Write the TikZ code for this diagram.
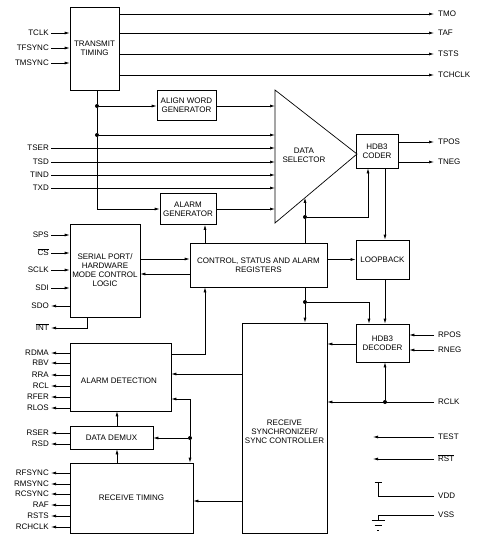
\documentclass[tikz,border=0pt]{standalone}
\usepackage{fontspec}
\setmainfont{Liberation Sans}
\usetikzlibrary{arrows.meta}
\newcommand{\ovl}[1]{$\overline{\hbox{#1}}$}
\begin{document}
\begin{tikzpicture}[x=1pt,y=-1pt,
  every node/.style={font=\fontsize{8}{9}\selectfont},
  box/.style={draw, rectangle, inner sep=0pt, align=center, line width=0.7pt},
  lbl/.style={inner xsep=2pt, inner ysep=0pt, anchor=east, text height=5.7pt, text depth=0pt},
  rlbl/.style={inner xsep=4pt, inner ysep=0pt, anchor=west, text height=5.7pt, text depth=0pt},
  wire/.style={line width=0.7pt},
  arr/.style={wire, -{Latex[length=5pt,width=3pt]}},
  dot/.style={circle, fill, inner sep=0pt, minimum size=4pt},
]
\useasboundingbox (0,0) rectangle (486,544);

% ---------------- boxes
\node[box, minimum width=49pt, minimum height=83pt] (tt) at (94.5,48.5) {TRANSMIT\\TIMING};
\node[box, minimum width=59pt, minimum height=30pt] (awg) at (186.5,105.5) {ALIGN WORD\\GENERATOR};
\node[box, minimum width=56pt, minimum height=31pt] (ag) at (188,209) {ALARM\\GENERATOR};
\node[box, minimum width=42pt, minimum height=34pt] (coder) at (377,151) {HDB3\\CODER};
\node[box, minimum width=70pt, minimum height=93pt] (sp) at (105,270.5) {SERIAL PORT/\\HARDWARE\\MODE CONTROL\\LOGIC};
\node[box, minimum width=137pt, minimum height=44pt] (ctrl) at (258.5,265) {CONTROL, STATUS AND ALARM\\REGISTERS};
\node[box, minimum width=53pt, minimum height=39pt] (loop) at (382.5,259.5) {LOOPBACK};
\node[box, minimum width=53pt, minimum height=38pt] (dec) at (382.5,343) {HDB3\\DECODER};
\node[box, minimum width=85pt, minimum height=210pt] (rs) at (284.5,428) {};
\node[align=center] at (284.5,432) {RECEIVE\\SYNCHRONIZER/\\SYNC CONTROLLER};
\node[box, minimum width=101pt, minimum height=68pt] (ad) at (120.5,377) {};
\node at (119,381) {ALARM DETECTION};
\node[box, minimum width=83pt, minimum height=23pt] (dd) at (111.5,437.5) {DATA DEMUX};
\node[box, minimum width=123pt, minimum height=70pt] (rt) at (131.5,498) {RECEIVE TIMING};

% data selector triangle
\coordinate (dsA) at (275,90);
\coordinate (dsT) at (357,154);
\coordinate (dsB) at (275,223);
\coordinate (dsE) at (305,197.8);
\draw[wire] (dsA) -- (dsT) -- (dsB) -- cycle;
\node[align=center] (ds) at (304,155) {DATA\\SELECTOR};

% x positions
\coordinate (xc) at (368,0);
\coordinate (xl) at (385,0);
\coordinate (xd) at (369,0);
\coordinate (xag) at (205,0);
\coordinate (xint) at (87,0);
\coordinate (xv) at (117,0);

% ---------------- transmit side
\node[lbl] (tclk) at (51,33) {TCLK};
\node[lbl] (tfsync) at (51,48) {TFSYNC};
\node[lbl] (tmsync) at (51,63) {TMSYNC};
\foreach \n in {tclk,tfsync,tmsync} \draw[arr] (\n) -- (\n -| tt.west);

\node[rlbl] (tmo) at (434,14) {TMO};
\node[rlbl] (taf) at (434,33) {TAF};
\node[rlbl] (tsts) at (434,54) {TSTS};
\node[rlbl] (tchclk) at (434,75) {TCHCLK};
\foreach \n in {tmo,taf,tsts,tchclk} \draw[arr] (tt.east |- \n) -- (\n);

\node[dot] (j1) at (97,106) {};
\node[dot] (j3) at (97,135) {};
\coordinate (j2) at (97,209);
\draw[wire] (tt.south -| j1) -- (j1);
\draw[wire] (j1) -- (j3);
\draw[arr] (j3) -- (j2) -- (j2 -| ag.west);
\draw[arr] (j1) -- (j1 -| awg.west);
\draw[arr] (awg.east |- j1) -- (j1 -| dsA);
\draw[arr] (j3) -- (j3 -| dsA);
\draw[arr] (ag.east |- j2) -- (j2 -| dsA);

\node[lbl] (tser) at (51,148) {TSER};
\node[lbl] (tsd) at (51,162) {TSD};
\node[lbl] (tind) at (51,175) {TIND};
\node[lbl] (txd) at (51,188) {TXD};
\foreach \n in {tser,tsd,tind,txd} \draw[arr] (\n) -- (\n -| dsA);

\node[rlbl] (tpos) at (434,142) {TPOS};
\node[rlbl] (tneg) at (434,162) {TNEG};
\foreach \n in {tpos,tneg} \draw[arr] (coder.east |- \n) -- (\n);

\node[dot] (j4) at (305,217) {};
\draw[wire] (ctrl.north -| dsE) -- (j4);
\draw[arr] (j4) -- (dsE);
\draw[arr] (j4) -| (coder.south -| xc);
\draw[arr] (ctrl.north -| xag) -- (ag.south -| xag);
\draw[arr] (coder.south -| xl) -- (loop.north -| xl);

% ---------------- serial port
\node[lbl] (sps) at (51,235) {SPS};
\node[lbl] (cs) at (51,253) {\ovl{CS}};
\node[lbl] (sclk) at (51,270) {SCLK};
\node[lbl] (sdi) at (51,288) {SDI};
\node[lbl] (sdo) at (51,306) {SDO};
\node[lbl] (int) at (51,328) {\ovl{INT}};
\foreach \n in {sps,cs,sclk,sdi} \draw[arr] (\n) -- (\n -| sp.west);
\draw[arr] (sp.west |- sdo) -- (sdo);
\draw[arr] (sp.south -| xint) |- (int);

\coordinate (y1) at (0,259);
\coordinate (y2) at (0,274);
\draw[arr] (sp.east |- y1) -- (ctrl.west |- y1);
\draw[arr] (ctrl.west |- y2) -- (sp.east |- y2);
\draw[arr] (ctrl.east |- loop) -- (loop.west);

% ---------------- receive side
\node[dot] (j5) at (305,302) {};
\draw[wire] (ctrl.south -| j5) -- (j5);
\draw[arr] (j5) -- (rs.north -| j5);
\draw[arr] (j5) -| (dec.north -| xd);
\draw[arr] (loop.south -| xl) -- (dec.north -| xl);

\node[rlbl] (rpos) at (434,335) {RPOS};
\node[rlbl] (rneg) at (434,350) {RNEG};
\foreach \n in {rpos,rneg} \draw[arr] (\n) -- (\n -| dec.east);
\coordinate (y3) at (0,344);
\draw[arr] (dec.west |- y3) -- (rs.east |- y3);

\node[rlbl] (rclk) at (434,402) {RCLK};
\node[dot] (j6) at (385,402) {};
\draw[arr] (rclk) -- (rclk -| rs.east);
\draw[arr] (j6) -- (dec.south -| j6);

\node[rlbl] (test) at (434,437) {TEST};
\coordinate (testend) at (373,437);
\draw[arr] (test) -- (testend);
\node[rlbl] (rst) at (434,459) {\ovl{RST}};
\coordinate (rstend) at (373,459);
\draw[arr] (rst) -- (rstend);

\node[rlbl] (vdd) at (434,496) {VDD};
\coordinate (vddtop) at (378,482);
\draw[wire] (vdd) -| (vddtop);
\draw[wire] (374.5,482) -- (381.5,482);

\node[rlbl] (vss) at (434,515) {VSS};
\coordinate (gnd) at (378,520);
\draw[wire] (vss) -| (gnd);
\draw[wire] (371.5,520) -- (384.5,520);
\draw[wire] (374.5,525) -- (381.5,525);
\draw[wire] (377,530) -- (379,530);

% alarm detection outputs
\node[lbl] (rdma) at (51,353) {RDMA};
\node[lbl] (rbv) at (51,363) {RBV};
\node[lbl] (rra) at (51,375) {RRA};
\node[lbl] (rcl) at (51,386) {RCL};
\node[lbl] (rfer) at (51,397) {RFER};
\node[lbl] (rlos) at (51,408) {RLOS};
\foreach \n in {rdma,rbv,rra,rcl,rfer,rlos} \draw[arr] (ad.west |- \n) -- (\n);

\coordinate (y4) at (0,354);
\draw[arr] (ad.east |- y4) -| (ctrl.south -| xag);
\coordinate (y5) at (0,374);
\draw[arr] (rs.west |- y5) -- (ad.east |- y5);

\node[dot] (j7) at (190,438) {};
\coordinate (y6) at (0,399);
\draw[arr] (j7) |- (ad.east |- y6);
\draw[arr] (j7) -- (rt.north -| j7);
\draw[arr] (j7) -- (dd.east |- j7);
\draw[arr] (dd.north -| xv) -- (ad.south -| xv);
\draw[arr] (rt.north -| xv) -- (dd.south -| xv);

\node[lbl] (rser) at (51,433) {RSER};
\node[lbl] (rsd) at (51,444) {RSD};
\foreach \n in {rser,rsd} \draw[arr] (dd.west |- \n) -- (\n);

\coordinate (y7) at (0,501);
\draw[arr] (rs.west |- y7) -- (rt.east |- y7);

\node[lbl] (rfsync) at (51,473) {RFSYNC};
\node[lbl] (rmsync) at (51,484) {RMSYNC};
\node[lbl] (rcsync) at (51,494) {RCSYNC};
\node[lbl] (raf) at (51,505) {RAF};
\node[lbl] (rsts) at (51,516) {RSTS};
\node[lbl] (rchclk) at (51,527) {RCHCLK};
\foreach \n in {rfsync,rmsync,rcsync,raf,rsts,rchclk} \draw[arr] (rt.west |- \n) -- (\n);
\end{tikzpicture}
\end{document}
